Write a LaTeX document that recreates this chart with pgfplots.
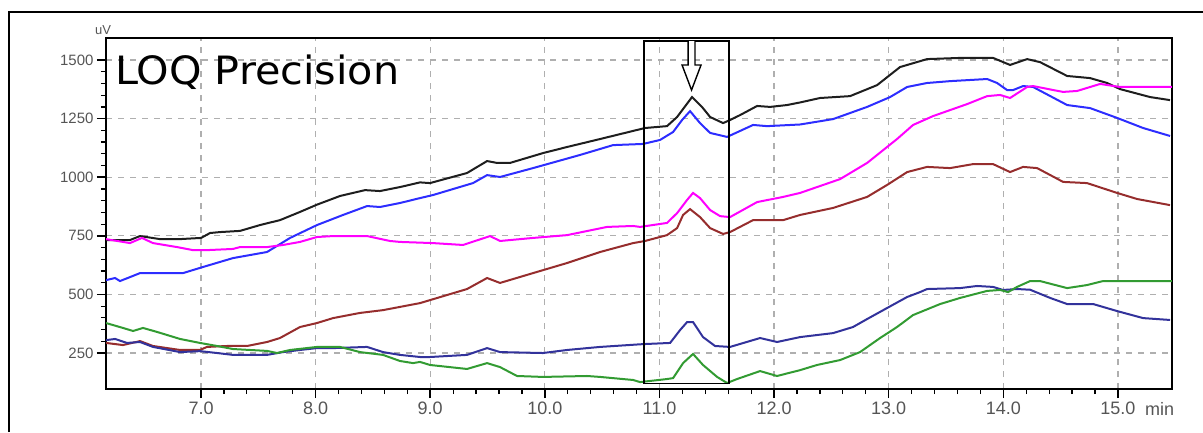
\documentclass[border=0pt]{standalone}
\usepackage{fontspec}
\setmainfont{Liberation Sans}
\newfontfamily\dejavu{DejaVu Sans}
\usepackage{pgfplots}
\pgfplotsset{compat=1.18}
\definecolor{lblgray}{RGB}{85,85,85}
\definecolor{gridgray}{RGB}{175,175,175}
\definecolor{cblack}{RGB}{30,30,30}
\definecolor{cblue}{RGB}{45,45,255}
\definecolor{cmag}{RGB}{255,0,255}
\definecolor{cbrown}{RGB}{150,45,45}
\definecolor{cnavy}{RGB}{50,50,155}
\definecolor{cgreen}{RGB}{50,155,50}
\begin{document}
\begin{tikzpicture}
\useasboundingbox (0,0) rectangle (1203pt,432pt);
\draw[line width=2.5pt, black] (9pt,0) -- (9pt,420pt) -- (1203pt,420pt);
\begin{axis}[
  at={(106pt,43pt)}, anchor=south west,
  scale only axis, width=1066pt, height=351pt,
  xmin=6.171, xmax=15.471, ymin=96.5, ymax=1594,
  xtick={7,8,...,15}, ytick={250,500,...,1500},
  minor x tick num=4, minor y tick num=4,
  tick align=outside, major tick length=9pt, minor tick length=5pt,
  tick style={black, line width=1.5pt},
  minor tick style={black, line width=1.2pt},
  xtick pos=bottom, ytick pos=left,
  axis line style={black, line width=2pt},
  grid=major,
  major grid style={gridgray, line width=1.2pt, dash pattern=on 6pt off 6pt},
  /pgf/number format/assume math mode=true,
  x tick label style={/pgf/number format/fixed, /pgf/number format/fixed zerofill, /pgf/number format/precision=1, font=\fontsize{18}{18}\selectfont, text=lblgray},
  y tick label style={/pgf/number format/1000 sep={}, font=\fontsize{15}{15}\selectfont, text=lblgray},
  clip=true,
  every axis plot/.append style={line width=2pt},
]
\addplot[cblack] coordinates {(6.171,732) (6.380,732) (6.468,749) (6.642,736) (6.817,736) (7.0,741) (7.079,762) (7.166,766) (7.340,771) (7.515,796) (7.689,817) (7.864,852) (8.012,883) (8.213,920) (8.431,945) (8.562,941) (8.736,958) (8.911,978) (8.998,975) (9.321,1018) (9.496,1069) (9.583,1061) (9.696,1061) (9.984,1103) (10.194,1129) (10.482,1163) (10.874,1210) (11.066,1218) (11.154,1257) (11.284,1342) (11.371,1300) (11.442,1257) (11.555,1231) (11.616,1244) (11.703,1265) (11.852,1304) (11.965,1300) (12.113,1308) (12.227,1319) (12.401,1338) (12.663,1346) (12.899,1393) (13.099,1470) (13.335,1504) (13.623,1509) (13.911,1509) (14.059,1479) (14.208,1504) (14.321,1491) (14.557,1432) (14.757,1423) (14.906,1402) (15.019,1376) (15.281,1342) (15.455,1329)};
\addplot[cblue] coordinates {(6.171,561) (6.250,570) (6.293,557) (6.468,591) (6.843,591) (7.017,617) (7.279,655) (7.576,681) (7.777,741) (8.012,796) (8.239,839) (8.449,877) (8.562,873) (8.736,890) (8.911,911) (9.024,924) (9.373,975) (9.496,1009) (9.609,1001) (9.897,1039) (10.307,1095) (10.595,1137) (10.857,1142) (11.005,1159) (11.119,1193) (11.197,1244) (11.267,1282) (11.354,1231) (11.442,1189) (11.590,1172) (11.817,1223) (11.939,1218) (12.227,1225) (12.515,1248) (12.812,1300) (13.012,1342) (13.161,1385) (13.335,1402) (13.536,1410) (13.859,1419) (13.946,1402) (14.033,1372) (14.086,1372) (14.173,1389) (14.260,1385) (14.557,1308) (14.757,1295) (14.993,1253) (15.220,1210) (15.455,1176)};
\addplot[cmag] coordinates {(6.171,736) (6.380,719) (6.485,741) (6.581,719) (6.791,702) (6.930,689) (7.052,689) (7.279,694) (7.340,702) (7.576,702) (7.716,711) (7.864,724) (8.012,745) (8.152,749) (8.449,749) (8.649,728) (8.736,724) (9.024,719) (9.286,711) (9.522,749) (9.609,728) (9.897,741) (10.194,753) (10.543,788) (10.770,792) (10.831,788) (11.066,805) (11.154,847) (11.241,903) (11.293,933) (11.354,911) (11.442,860) (11.529,834) (11.616,830) (11.852,894) (12.079,916) (12.227,933) (12.576,992) (12.812,1061) (13.073,1163) (13.213,1223) (13.388,1261) (13.684,1312) (13.859,1346) (13.972,1351) (14.059,1338) (14.208,1385) (14.260,1389) (14.435,1372) (14.522,1364) (14.644,1368) (14.845,1398) (15.019,1385) (15.482,1385)};
\addplot[cbrown] coordinates {(6.171,293) (6.319,284) (6.468,301) (6.581,280) (6.817,263) (6.991,263) (7.052,276) (7.227,280) (7.401,280) (7.576,297) (7.689,314) (7.864,361) (8.012,378) (8.152,399) (8.387,421) (8.588,433) (8.911,463) (9.321,523) (9.496,570) (9.609,549) (9.897,591) (10.194,634) (10.482,681) (10.770,719) (10.874,728) (11.066,753) (11.154,783) (11.206,839) (11.267,864) (11.354,830) (11.442,783) (11.555,758) (11.616,766) (11.817,817) (12.079,817) (12.227,839) (12.515,869) (12.812,916) (12.986,967) (13.161,1022) (13.335,1044) (13.536,1039) (13.737,1056) (13.911,1056) (14.059,1022) (14.173,1044) (14.295,1039) (14.522,980) (14.731,975) (14.993,933) (15.168,907) (15.455,881)};
\addplot[cnavy] coordinates {(6.171,305) (6.250,310) (6.354,293) (6.468,297) (6.581,276) (6.817,254) (6.991,258) (7.140,250) (7.279,242) (7.576,242) (7.716,254) (7.864,263) (8.012,271) (8.152,271) (8.449,276) (8.588,254) (8.736,242) (8.911,233) (8.998,233) (9.321,242) (9.496,271) (9.609,254) (9.984,250) (10.194,263) (10.482,276) (10.857,288) (11.093,293) (11.180,348) (11.241,382) (11.293,382) (11.380,318) (11.485,280) (11.616,276) (11.878,314) (12.026,297) (12.227,318) (12.515,335) (12.689,361) (12.812,395) (12.986,442) (13.161,489) (13.274,510) (13.335,523) (13.623,527) (13.771,536) (13.911,532) (13.998,519) (14.120,523) (14.234,520) (14.409,485) (14.557,459) (14.784,459) (14.993,429) (15.220,399) (15.455,391)};
\addplot[cgreen] coordinates {(6.171,378) (6.319,357) (6.407,344) (6.494,357) (6.616,340) (6.817,310) (6.991,293) (7.140,280) (7.279,267) (7.576,259) (7.663,250) (7.777,263) (8.012,276) (8.213,276) (8.387,254) (8.588,242) (8.736,216) (8.850,207) (8.911,212) (8.998,199) (9.321,182) (9.496,207) (9.609,190) (9.757,152) (9.984,148) (10.368,152) (10.482,148) (10.770,135) (10.831,126) (11.066,139) (11.119,143) (11.206,207) (11.293,246) (11.380,199) (11.503,148) (11.590,122) (11.677,139) (11.878,173) (12.026,152) (12.227,177) (12.375,199) (12.576,220) (12.750,254) (12.925,314) (13.073,361) (13.213,412) (13.449,459) (13.623,485) (13.859,515) (13.972,519) (14.042,510) (14.120,532) (14.234,557) (14.321,557) (14.557,527) (14.731,540) (14.871,557) (15.471,557)};
\draw[black, line width=1.6pt] (axis cs:10.866,120) rectangle (axis cs:11.607,1581);
\draw[black, line width=1.4pt, fill=white] (axis cs:11.250,1581) -- (axis cs:11.250,1479) -- (axis cs:11.197,1479) -- (axis cs:11.280,1372) -- (axis cs:11.363,1479) -- (axis cs:11.310,1479) -- (axis cs:11.310,1581);
\end{axis}
\node[anchor=base west, inner sep=0pt] at (115pt,347pt) {\dejavu\fontsize{39}{46}\selectfont\scalebox{1.06}[1]{LOQ Precision}};
\node[inner sep=0pt, text=lblgray, font=\fontsize{13}{13}\selectfont] at (103pt,402pt) {uV};
\node[inner sep=0pt, anchor=base west, text=lblgray, font=\fontsize{18}{18}\selectfont] at (1145pt,17pt) {min};
\end{tikzpicture}
\end{document}
